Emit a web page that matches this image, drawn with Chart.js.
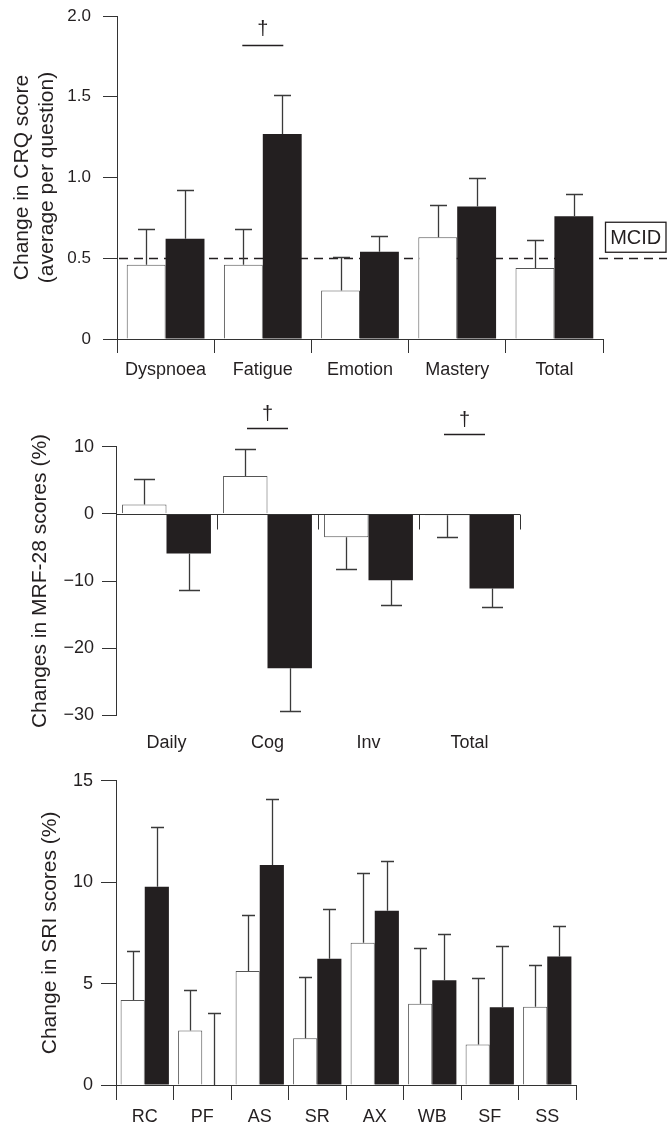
<!DOCTYPE html>
<html><head><meta charset="utf-8">
<script src="https://cdn.jsdelivr.net/npm/chart.js@4.4.1/dist/chart.umd.min.js"></script>
<style>
html,body{margin:0;padding:0;background:#fff;}
#wrap{position:relative;width:667px;height:1127px;overflow:hidden;background:#fff;}
canvas{position:absolute;left:0;}
</style></head><body>
<div id="wrap">
<canvas id="c1" width="667" height="390" style="top:0px"></canvas>
<canvas id="c2" width="667" height="375" style="top:390px"></canvas>
<canvas id="c3" width="667" height="362" style="top:765px"></canvas>
</div>
<script>
// ---------- Panel 1: CRQ ----------
const crqCategories = ['Dyspnoea','Fatigue','Emotion','Mastery','Total'];
const crqOpen      = [0.46, 0.46, 0.30, 0.63, 0.44];
const crqOpenSE    = [0.22, 0.22, 0.21, 0.20, 0.17];
const crqFilled    = [0.62, 1.27, 0.54, 0.82, 0.76];
const crqFilledSE  = [0.30, 0.24, 0.10, 0.18, 0.14];
const crqTicks     = ['0','0.5','1.0','1.5','2.0'];
const crqMCID      = 0.5;
const crqSignificant = ['Fatigue'];

// ---------- Panel 2: MRF-28 ----------
const mrfCategories = ['Daily','Cog','Inv','Total'];
const mrfOpen      = [1.4, 5.65, -3.5, -0.2];
const mrfOpenSE    = [3.8, 3.95, 4.7, 3.3];
const mrfFilled    = [-5.9, -23.0, -9.9, -11.1];
const mrfFilledSE  = [5.4, 6.4, 3.6, 2.7];
const mrfTicks     = ['\u221230','\u221220','\u221210','0','10'];
const mrfSignificant = ['Cog','Total'];

// ---------- Panel 3: SRI ----------
const sriCategories = ['RC','PF','AS','SR','AX','WB','SF','SS'];
const sriOpen      = [4.19, 2.69, 5.62, 2.30, 7.01, 4.00, 2.00, 3.86];
const sriOpenSE    = [2.43, 1.97, 2.74, 3.04, 3.42, 2.76, 3.27, 2.05];
const sriFilled    = [9.77, 0, 10.84, 6.22, 8.59, 5.16, 3.83, 6.34];
const sriFilledSE  = [2.96, 3.53, 3.26, 2.47, 2.46, 2.26, 3.03, 1.51];
const sriTicks     = ['0','5','10','15'];

const FF = "'Liberation Sans', Arial, Helvetica, sans-serif";
const TXT = '#231f20';
const AX = '#333333';
const DARK = '#231f20';
Chart.defaults.font.family = FF;
Chart.defaults.color = TXT;

// error bar plugin (uses the library's scale + bar elements)
const errorBars = {
  id: 'errorBars',
  afterDatasetsDraw(chart, args, opts) {
    const ctx = chart.ctx, y = chart.scales.y;
    chart.data.datasets.forEach((ds, di) => {
      const meta = chart.getDatasetMeta(di);
      meta.data.forEach((bar, i) => {
        const v = ds.data[i], se = ds.se[i];
        const dir = v < 0 ? -1 : 1;
        const y0 = y.getPixelForValue(v), y1 = y.getPixelForValue(v + dir * se);
        const half = opts.cap / 2;
        const bx = Math.round(bar.x) + 0.5, by1 = Math.round(y1) + 0.5;
        ctx.save();
        ctx.strokeStyle = opts.color; ctx.lineWidth = opts.width;
        ctx.beginPath();
        ctx.moveTo(bx, y0); ctx.lineTo(bx, by1);
        ctx.moveTo(bx - half, by1); ctx.lineTo(bx + half, by1);
        ctx.stroke();
        ctx.restore();
      });
    });
  }
};

// significance marks (dagger + bar)
const sigMarks = {
  id: 'sigMarks',
  afterDraw(chart, args, opts) {
    const x = chart.scales.x, y = chart.scales.y, ctx = chart.ctx;
    (opts.items || []).forEach(it => {
      const i = chart.data.labels.indexOf(it.label);
      const cx = x.getPixelForValue(i) + (it.dx || 0);
      const ly = Math.round(y.getPixelForValue(it.lineAt)) + 0.5;
      ctx.save();
      ctx.strokeStyle = DARK; ctx.lineWidth = 1.6;
      ctx.beginPath(); ctx.moveTo(cx - opts.half, ly); ctx.lineTo(cx + opts.half, ly); ctx.stroke();
      ctx.fillStyle = DARK; ctx.font = opts.size + 'px ' + FF;
      ctx.textAlign = 'center'; ctx.textBaseline = 'middle';
      ctx.fillText('\u2020', cx, ly - opts.gap);
      ctx.restore();
    });
  }
};

// MCID reference line and box
const mcidPlugin = {
  id: 'mcid',
  beforeDatasetsDraw(chart, args, opts) {
    const ctx = chart.ctx, y = chart.scales.y, ca = chart.chartArea;
    const py = Math.round(y.getPixelForValue(opts.value)) + 0.5;
    ctx.save();
    ctx.strokeStyle = DARK; ctx.lineWidth = 1.4; ctx.setLineDash([9, 6]);
    ctx.beginPath(); ctx.moveTo(ca.left + 2, py); ctx.lineTo(chart.width, py); ctx.stroke();
    ctx.restore();
  },
  afterDraw(chart, args, opts) {
    const ctx = chart.ctx, y = chart.scales.y, ca = chart.chartArea;
    const py = y.getPixelForValue(opts.value);
    const left = ca.right + 2.5, right = chart.width - 1, bottom = py - 6, top = py - 36;
    ctx.save();
    ctx.strokeStyle = DARK; ctx.lineWidth = 1.3;
    ctx.fillStyle = '#fff';
    ctx.fillRect(left, top, right - left, bottom - top);
    ctx.strokeRect(left, top, right - left, bottom - top);
    ctx.fillStyle = DARK; ctx.font = '20px ' + FF;
    ctx.textAlign = 'center'; ctx.textBaseline = 'middle';
    ctx.fillText(opts.label, (left + right) / 2, (top + bottom) / 2 + 1);
    ctx.restore();
  }
};

// zero line with category boundary ticks (middle panel)
const zeroAxis = {
  id: 'zeroAxis',
  afterDatasetsDraw(chart, args, opts) {
    const ctx = chart.ctx, x = chart.scales.x, y = chart.scales.y;
    const py = Math.round(y.getPixelForValue(0)) + 0.5;
    const n = chart.data.labels.length, step = (x.right - x.left) / n;
    ctx.save();
    ctx.strokeStyle = AX; ctx.lineWidth = 1;
    ctx.beginPath(); ctx.moveTo(x.left, py); ctx.lineTo(x.right, py);
    for (let k = 0; k <= n; k++) {
      const px = Math.round(x.left + k * step) + 0.5;
      ctx.moveTo(px, py); ctx.lineTo(px, py + opts.len);
    }
    ctx.stroke();
    ctx.restore();
  }
};

function barSets(open, openSE, filled, filledSE, catPct) {
  return [
    {data: open, se: openSE, backgroundColor: '#ffffff', borderColor: '#555555', borderWidth: 1,
     barPercentage: 1, categoryPercentage: catPct},
    {data: filled, se: filledSE, backgroundColor: DARK, borderColor: DARK, borderWidth: 0,
     barPercentage: 1, categoryPercentage: catPct}
  ];
}
function yAxis(opts) {
  return {
    min: opts.min, max: opts.max,
    ticks: {stepSize: opts.step, callback: (v, i) => opts.labels[i], font: {size: opts.tickSize}, color: TXT, padding: opts.pad},
    grid: {drawOnChartArea: false, tickLength: opts.tl, color: AX, tickColor: AX},
    border: {color: AX, width: 1},
    title: {display: true, text: opts.title, color: TXT, font: {size: 21, lineHeight: '25px'}, padding: {top: opts.titlePad, bottom: 0}},
    afterFit(s) { s.width = opts.width; s.paddingTop = 0; s.paddingBottom = 0; }
  };
}
const base = {
  responsive: false, animation: false, devicePixelRatio: 1,
  events: []
};

// ---- Chart 1 ----
new Chart(document.getElementById('c1'), {
  type: 'bar',
  data: {labels: crqCategories, datasets: barSets(crqOpen, crqOpenSE, crqFilled, crqFilledSE, 0.8)},
  options: Object.assign({}, base, {
    layout: {padding: {top: 16, right: 64, left: 0, bottom: 0}},
    scales: {
      x: {offset: true, grid: {offset: true, drawOnChartArea: false, tickLength: 14, color: AX, tickColor: AX},
          border: {color: AX}, ticks: {font: {size: 18}, color: TXT, padding: 6},
          afterFit(s) { s.height = 390 - 339; }},
      y: yAxis({min: 0, max: 2, step: 0.5, labels: crqTicks, tickSize: 17, pad: 12, tl: 14,
                title: ['Change in CRQ score', '(average per question)'], titlePad: 9.5, width: 117})
    },
    plugins: {legend: {display: false}, tooltip: {enabled: false},
      errorBars: {cap: 17, color: '#3a3a3a', width: 1.3},
      sigMarks: {items: crqSignificant.map(l => ({label: l, lineAt: 1.82})), half: 20.5, gap: 16, size: 20},
      mcid: {value: crqMCID, label: 'MCID'}}
  }),
  plugins: [mcidPlugin, errorBars, sigMarks]
});

// ---- Chart 2 ----
new Chart(document.getElementById('c2'), {
  type: 'bar',
  data: {labels: mrfCategories, datasets: barSets(mrfOpen, mrfOpenSE, mrfFilled, mrfFilledSE, 0.88)},
  options: Object.assign({}, base, {
    layout: {padding: {top: 56.7, right: 147, left: 0, bottom: 0}},
    scales: {
      x: {offset: true, grid: {display: false, drawTicks: false}, border: {display: false},
          ticks: {font: {size: 18}, color: TXT, padding: 17},
          afterFit(s) { s.height = 375 - 325.3; }},
      y: yAxis({min: -30, max: 10, step: 10, labels: mrfTicks, tickSize: 18, pad: 8, tl: 14,
                title: 'Changes in MRF-28 scores (%)', titlePad: 27.5, width: 116})
    },
    plugins: {legend: {display: false}, tooltip: {enabled: false},
      errorBars: {cap: 21, color: '#3a3a3a', width: 1.3},
      zeroAxis: {len: 15},
      sigMarks: {items: [{label: mrfSignificant[0], lineAt: 12.8}, {label: mrfSignificant[1], lineAt: 11.9, dx: -5}],
                 half: 20.5, gap: 14, size: 20}}
  }),
  plugins: [errorBars, zeroAxis, sigMarks]
});

// ---- Chart 3 ----
new Chart(document.getElementById('c3'), {
  type: 'bar',
  data: {labels: sriCategories, datasets: barSets(sriOpen, sriOpenSE, sriFilled, sriFilledSE, 0.84)},
  options: Object.assign({}, base, {
    layout: {padding: {top: 15.7, right: 91, left: 0, bottom: 0}},
    scales: {
      x: {offset: true, grid: {offset: true, drawOnChartArea: false, tickLength: 15, color: AX, tickColor: AX},
          border: {color: AX}, ticks: {font: {size: 18}, color: TXT, padding: 6},
          afterFit(s) { s.height = 362 - 320; }},
      y: yAxis({min: 0, max: 15, step: 5, labels: sriTicks, tickSize: 18, pad: 8, tl: 15,
                title: 'Change in SRI scores (%)', titlePad: 37.5, width: 116})
    },
    plugins: {legend: {display: false}, tooltip: {enabled: false},
      errorBars: {cap: 13, color: '#3a3a3a', width: 1.3}}
  }),
  plugins: [errorBars]
});
</script>
</body></html>
